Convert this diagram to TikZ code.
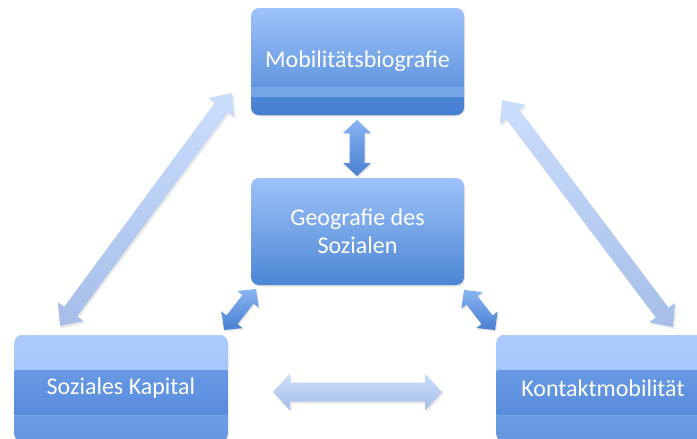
\documentclass[tikz,border=0pt]{standalone}
\usepackage{fontspec}
\setmainfont{Carlito}
\usetikzlibrary{calc,shadows}

\definecolor{boxtop}{RGB}{158,194,250}
\definecolor{boxbot}{RGB}{76,134,212}
\definecolor{bandlite}{RGB}{117,165,230}
\definecolor{banddeep}{RGB}{78,135,213}
\definecolor{banddeeper}{RGB}{68,126,207}
\definecolor{lowtop}{RGB}{172,203,252}
\definecolor{lowtopb}{RGB}{152,188,246}
\definecolor{lowmid}{RGB}{103,153,228}
\definecolor{lowmidb}{RGB}{88,140,220}
\definecolor{lowbot}{RGB}{110,158,228}
\definecolor{lowbotb}{RGB}{100,148,222}
\definecolor{bigtop}{RGB}{202,222,252}
\definecolor{bigbot}{RGB}{166,190,232}
\definecolor{smalltop}{RGB}{135,180,242}
\definecolor{smallbot}{RGB}{74,128,210}

% double-headed block arrow from #2 to #3:
% #4 half shaft width, #5 half head width, #6 head length
\newcommand\blockarrow[6]{%
  \path[#1] (#2)
    -- ($(#2)!#6!(#3)!#5!90:(#3)$)
    -- ($(#2)!#6!(#3)!#4!90:(#3)$)
    -- ($(#3)!#6!(#2)!#4!-90:(#2)$)
    -- ($(#3)!#6!(#2)!#5!-90:(#2)$)
    -- (#3)
    -- ($(#3)!#6!(#2)!#5!90:(#2)$)
    -- ($(#3)!#6!(#2)!#4!90:(#2)$)
    -- ($(#2)!#6!(#3)!#4!-90:(#3)$)
    -- ($(#2)!#6!(#3)!#5!-90:(#3)$)
    -- cycle;}

\tikzset{
  box/.style={rounded corners=8pt, minimum width=213pt, minimum height=107pt,
    inner sep=0pt, text=white, align=center,
    font=\fontsize{24}{28.5}\selectfont,
    drop shadow={opacity=.22, shadow xshift=1pt, shadow yshift=-1.5pt}},
  plainbox/.style={box, top color=boxtop, bottom color=boxbot},
  bandbox/.style={box, top color=boxtop, bottom color=boxbot,
    path picture={
      \fill[sharp corners, bandlite]
        ([yshift=-79pt]path picture bounding box.north west)
        rectangle ([yshift=-89pt]path picture bounding box.north east);
      \shade[sharp corners, top color=banddeep, bottom color=banddeeper]
        ([yshift=-89pt]path picture bounding box.north west)
        rectangle (path picture bounding box.south east);}},
  lowbox/.style={box, fill=lowbot,
    path picture={
      \shade[sharp corners, top color=lowtop, bottom color=lowtopb]
        (path picture bounding box.north west)
        rectangle ([yshift=-35pt]path picture bounding box.north east);
      \shade[sharp corners, top color=lowmid, bottom color=lowmidb]
        ([yshift=-35pt]path picture bounding box.north west)
        rectangle ([yshift=-80pt]path picture bounding box.north east);
      \shade[sharp corners, top color=lowbot, bottom color=lowbotb]
        ([yshift=-80pt]path picture bounding box.north west)
        rectangle (path picture bounding box.south east);}},
  bigarrow/.style={top color=bigtop, bottom color=bigbot,
    drop shadow={opacity=.18, shadow xshift=1.5pt, shadow yshift=-2pt}},
  smallarrow/.style={top color=smalltop, bottom color=smallbot,
    drop shadow={opacity=.22, shadow xshift=1pt, shadow yshift=-1.5pt}},
}

\begin{document}
\begin{tikzpicture}[x=1pt, y=-1pt]
  \path[use as bounding box, clip] (0,0) rectangle (697,439);

  % the four topics
  \node[bandbox]  (mob) at (357.5,61.5)  {Mobilitätsbiografie};
  \node[plainbox] (geo) at (357.5,231.5) {Geografie des\\Sozialen};
  \node[lowbox]   (kap) at (121,388.5)   {Soziales Kapital};
  \node[lowbox]   (kon) at (603,388.5)   {Kontaktmobilität};

  % arrow end points
  \coordinate (mg1) at (357,120);
  \coordinate (mg2) at (357,176);
  \coordinate (gk1) at (256,289);
  \coordinate (gk2) at (224,330);
  \coordinate (gn1) at (464,290);
  \coordinate (gn2) at (495,330);
  \coordinate (mk1) at (232,93);
  \coordinate (mk2) at (60,326);
  \coordinate (mn1) at (502,100);
  \coordinate (mn2) at (673,327);
  \coordinate (kn1) at (273,392);
  \coordinate (kn2) at (442,392);

  % outer relations
  \blockarrow{bigarrow}{mk1}{mk2}{8pt}{16pt}{18pt}
  \blockarrow{bigarrow}{mn1}{mn2}{8pt}{16pt}{18pt}
  \blockarrow{bigarrow}{kn1}{kn2}{9.5pt}{18.5pt}{17pt}

  % relations to the centre
  \blockarrow{smallarrow}{mg1}{mg2}{7.5pt}{14pt}{13pt}
  \blockarrow{smallarrow}{gk1}{gk2}{7pt}{13.5pt}{13pt}
  \blockarrow{smallarrow}{gn1}{gn2}{7pt}{13.5pt}{13pt}
\end{tikzpicture}
\end{document}
